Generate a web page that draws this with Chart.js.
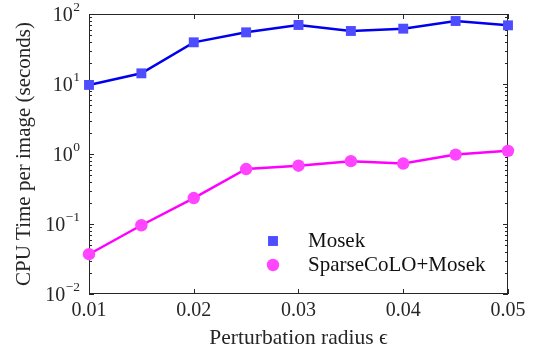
<!DOCTYPE html>
<html>
<head>
<meta charset="utf-8">
<script src="https://cdn.jsdelivr.net/npm/chart.js@4/dist/chart.umd.min.js"></script>
<style>
html,body{margin:0;padding:0;background:#fff;}
#c{display:block;}
</style>
</head>
<body>
<canvas id="c" width="540" height="354"></canvas>
<script>
// ---- data ----
const epsilons = [0.01, 0.015, 0.02, 0.025, 0.03, 0.035, 0.04, 0.045, 0.05];
const mosekTimes = [9.7, 14.2, 39.4, 54.7, 69.7, 57.2, 61.7, 79.4, 68.9];
const sparseTimes = [0.037, 0.096, 0.235, 0.61, 0.68, 0.79, 0.73, 0.98, 1.11];
const xTicks = [0.01, 0.02, 0.03, 0.04, 0.05];
const yTicks = [0.01, 0.1, 1, 10, 100];
const yTickExponents = ['\u22122', '\u22121', '0', '1', '2'];
const seriesNames = ['Mosek', 'SparseCoLO+Mosek'];
const xTitle = 'Perturbation radius \u03f5';
const yTitle = 'CPU Time per image (seconds)';

const FONT = '"Liberation Serif", "Times New Roman", serif';
const AXIS = '#262626';

const frame = {
  id: 'frame',
  beforeDatasetsDraw(chart) {
    const {ctx, chartArea: a, scales: {x, y}} = chart;
    ctx.save();
    ctx.strokeStyle = AXIS;
    ctx.lineWidth = 1;
    ctx.strokeRect(a.left + 0.5, a.top + 0.5, a.right - a.left - 1, a.bottom - a.top - 1);
    ctx.beginPath();
    xTicks.forEach(v => {
      const px = Math.round(x.getPixelForValue(v)) + 0.5;
      ctx.moveTo(px, a.bottom); ctx.lineTo(px, a.bottom - 5);
      ctx.moveTo(px, a.top); ctx.lineTo(px, a.top + 5);
    });
    for (let e = -2; e < 2; e++) {
      for (let m = 1; m <= 9; m++) {
        const v = m * Math.pow(10, e);
        const py = Math.round(y.getPixelForValue(v)) + 0.5;
        const len = m === 1 ? 5 : 3;
        ctx.moveTo(a.left, py); ctx.lineTo(a.left + len, py);
        ctx.moveTo(a.right, py); ctx.lineTo(a.right - len, py);
      }
    }
    ctx.stroke();
    // y tick labels with superscripts
    ctx.fillStyle = AXIS;
    ctx.textBaseline = 'alphabetic';
    yTicks.forEach((v, i) => {
      const py = y.getPixelForValue(v);
      ctx.font = '13.5px ' + FONT;
      const exp = yTickExponents[i];
      const we = ctx.measureText(exp).width;
      const rightEdge = a.left - 9;
      ctx.textAlign = 'left';
      ctx.fillText(exp, rightEdge - we, py - 3);
      ctx.font = '20px ' + FONT;
      ctx.textAlign = 'right';
      ctx.fillText('10', rightEdge - we - 0.5, py + 7);
    });
    ctx.restore();
  },
  afterDraw(chart) {
    const {ctx} = chart;
    ctx.save();
    const items = [[273, 241], [273, 265]];
    chart.data.datasets.forEach((ds, i) => {
      const [lx, ly] = items[i];
      ctx.fillStyle = ds.pointBackgroundColor;
      ctx.strokeStyle = ds.pointBorderColor;
      Chart.helpers.drawPoint(ctx, {pointStyle: ds.pointStyle, radius: ds.pointRadius, borderWidth: 0}, lx, ly);
      ctx.fillStyle = '#111';
      ctx.font = '21px ' + FONT;
      ctx.textAlign = 'left';
      ctx.textBaseline = 'middle';
      ctx.fillText(ds.label, 308, ly);
    });
    ctx.restore();
  }
};

new Chart(document.getElementById('c'), {
  type: 'line',
  data: {
    datasets: [
      {
        label: seriesNames[0],
        data: epsilons.map((e, i) => ({x: e, y: mosekTimes[i]})),
        borderColor: '#0000ee',
        borderWidth: 2.5,
        pointStyle: 'rect',
        pointRadius: 7,
        pointHoverRadius: 7,
        pointBackgroundColor: '#4d4dff',
        pointBorderColor: '#4d4dff',
        pointBorderWidth: 0,
        tension: 0
      },
      {
        label: seriesNames[1],
        data: epsilons.map((e, i) => ({x: e, y: sparseTimes[i]})),
        borderColor: '#ff00ff',
        borderWidth: 2.5,
        pointStyle: 'circle',
        pointRadius: 6.2,
        pointHoverRadius: 6.2,
        pointBackgroundColor: '#ff45ff',
        pointBorderColor: '#ff45ff',
        pointBorderWidth: 0,
        tension: 0
      }
    ]
  },
  options: {
    responsive: false,
    animation: false,
    devicePixelRatio: 1,
    clip: false,
    layout: {padding: {left: 0, right: 32, top: 14, bottom: 0}},
    plugins: {legend: {display: false}, tooltip: {enabled: false}},
    scales: {
      x: {
        type: 'linear',
        min: 0.01, max: 0.05,
        afterBuildTicks: s => { s.ticks = xTicks.map(v => ({value: v})); },
        afterFit: s => { s.height = 60; },
        grid: {display: false, drawTicks: false},
        border: {display: false},
        ticks: {
          padding: 5,
          color: AXIS,
          font: {family: FONT, size: 20},
          maxRotation: 0,
          callback: v => Number(v).toFixed(2)
        },
        title: {display: true, text: xTitle, color: AXIS, font: {family: FONT, size: 21.5}, padding: {top: 0, bottom: 3}}
      },
      y: {
        type: 'logarithmic',
        min: 0.01, max: 100,
        afterBuildTicks: s => { s.ticks = yTicks.map(v => ({value: v})); },
        afterFit: s => { s.width = 89; },
        grid: {display: false, drawTicks: false},
        border: {display: false},
        ticks: {display: false},
        title: {display: true, text: yTitle, color: AXIS, font: {family: FONT, size: 21}, padding: {top: 12, bottom: 0}}
      }
    }
  },
  plugins: [frame]
});
</script>
</body>
</html>
